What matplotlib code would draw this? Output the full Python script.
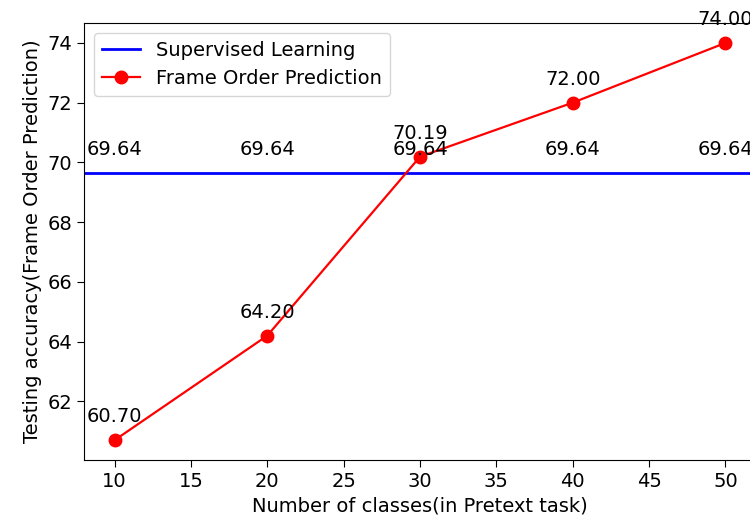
import matplotlib
matplotlib.use('Agg')
import matplotlib.pyplot as plt

# number of classes used in the pretext task
classes = [10, 20, 30, 40, 50]
# testing accuracy of frame order prediction
frame_order = [60.70, 64.20, 70.19, 72.00, 74.00]
# supervised baseline (constant)
supervised = [69.64, 69.64, 69.64, 69.64, 69.64]

fs = 14

fig = plt.figure(figsize=(7.5, 5.24), dpi=100)
ax = fig.add_axes([0.112, 0.122, 0.896, 0.834])

ax.axhline(y=supervised[0], color='blue', linewidth=2, label='Supervised Learning')
ax.plot(classes, frame_order, 'ro-', linewidth=1.6, markersize=9, label='Frame Order Prediction')

for x, y in zip(classes, supervised):
    ax.annotate('%.2f' % y, (x, y), textcoords='offset points', xytext=(0, 13),
                ha='center', fontsize=fs)
for x, y in zip(classes, frame_order):
    ax.annotate('%.2f' % y, (x, y), textcoords='offset points', xytext=(0, 13),
                ha='center', fontsize=fs)

ax.set_xlim(8, 52)
ax.set_ylim(60.035, 74.665)
ax.set_xticks([10, 15, 20, 25, 30, 35, 40, 45, 50])
ax.set_yticks([62, 64, 66, 68, 70, 72, 74])
ax.tick_params(labelsize=fs, length=5)
ax.set_xlabel('Number of classes(in Pretext task)', fontsize=fs)
ax.set_ylabel('Testing accuracy(Frame Order Prediction)', fontsize=fs)
ax.legend(loc='upper left', fontsize=fs)

plt.savefig('out.png')
